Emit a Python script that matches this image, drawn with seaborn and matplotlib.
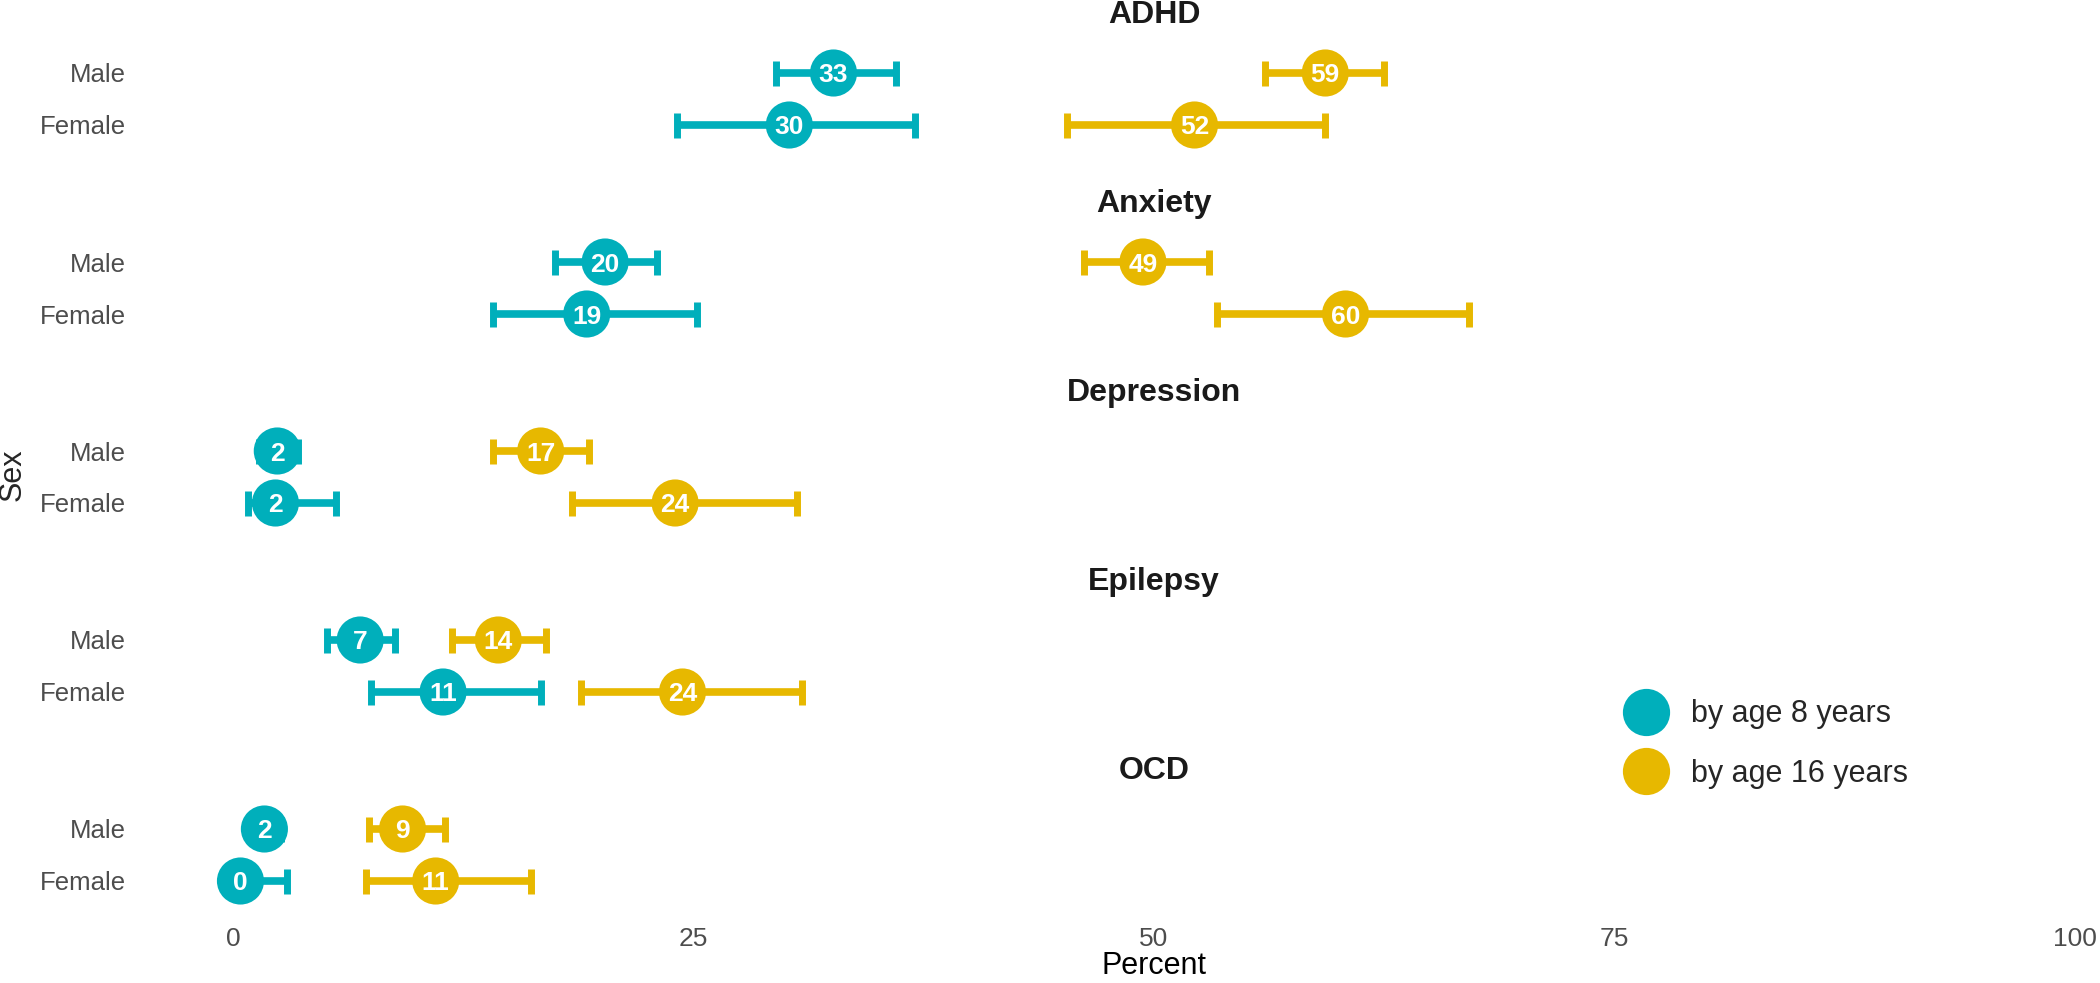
import numpy as np
import pandas as pd
import matplotlib.pyplot as plt
from matplotlib.lines import Line2D
import seaborn as sns

sns.set_theme(style="white")
plt.rcParams['font.family'] = ['Liberation Sans', 'DejaVu Sans']

disorders = ['ADHD', 'Anxiety', 'Depression', 'Epilepsy', 'OCD']
sexes = ['Male', 'Female']
groups = ['by age 8 years', 'by age 16 years']
colors = {'by age 8 years': '#00AFBB', 'by age 16 years': '#E7B800'}

# order: ADHD M, ADHD F, Anxiety M, Anxiety F, Depression M, Depression F, Epilepsy M, Epilepsy F, OCD M, OCD F
by8_est = [32.6, 30.2, 20.2, 19.2, 2.4, 2.3, 6.9, 11.4, 1.7, 0.4]
by8_lo = [29.5, 24.1, 17.5, 14.1, 1.4, 0.8, 5.1, 7.5, 1.0, 0.0]
by8_hi = [36.0, 37.0, 23.0, 25.2, 3.5, 5.6, 8.8, 16.7, 2.6, 2.9]

by16_est = [59.3, 52.2, 49.4, 60.4, 16.7, 24.0, 14.4, 24.4, 9.2, 11.0]
by16_lo = [56.0, 45.3, 46.2, 53.4, 14.1, 18.4, 11.9, 18.9, 7.4, 7.2]
by16_hi = [62.5, 59.3, 53.0, 67.1, 19.3, 30.6, 17.0, 30.9, 11.5, 16.2]

rows = []
for g, est, lo, hi in [(groups[0], by8_est, by8_lo, by8_hi), (groups[1], by16_est, by16_lo, by16_hi)]:
    for i, d in enumerate(disorders):
        for j, s in enumerate(sexes):
            k = i * 2 + j
            rows.append({'Disorder': d, 'Sex': s, 'Group': g,
                         'Percent': est[k], 'lo': lo[k], 'hi': hi[k]})
df = pd.DataFrame(rows)
df['ypos'] = df['Sex'].map({'Male': 1, 'Female': 0})

W, H = 2100, 983
fig = plt.figure(figsize=(W / 100, H / 100), dpi=100)

left_px, right_px = 141, 2167
row_h = 52
male_y = [73, 262, 451, 640, 829]

for i, d in enumerate(disorders):
    top = male_y[i] - 0.6 * row_h
    ax = fig.add_axes([left_px / W, 1 - (top + 2.2 * row_h) / H,
                       (right_px - left_px) / W, 2.2 * row_h / H])
    sub = df[df['Disorder'] == d]
    for g in groups:
        s = sub[sub['Group'] == g]
        ax.errorbar(s['Percent'], s['ypos'],
                    xerr=[s['Percent'] - s['lo'], s['hi'] - s['Percent']],
                    fmt='none', ecolor=colors[g], elinewidth=5.5,
                    capsize=9, capthick=5, zorder=2)
    sns.scatterplot(data=sub, x='Percent', y='ypos', hue='Group', palette=colors,
                    s=1150, linewidth=0, ax=ax, legend=False, zorder=3)
    for _, r in sub.iterrows():
        ax.text(r['Percent'], r['ypos'], f"{r['Percent']:.0f}", color='white',
                fontsize=19, fontweight='bold', ha='center', va='center_baseline', zorder=4)
    ax.set_xlim(-5, 105)
    ax.set_ylim(-0.6, 1.6)
    ax.set_yticks([1, 0])
    ax.set_yticklabels(sexes, fontsize=18.5, color='#4D4D4D')
    ax.tick_params(axis='y', length=0, pad=11)
    ax.set_ylabel('')
    ax.text(0.5, 1 + 27 / (2.2 * row_h), d, transform=ax.transAxes, ha='center',
            va='center', fontsize=23, fontweight='bold', color='#1A1A1A')
    for sp in ax.spines.values():
        sp.set_visible(False)
    ax.grid(False)
    if i < len(disorders) - 1:
        ax.set_xticks([])
        ax.set_xlabel('')
    else:
        ax.set_xticks([0, 25, 50, 75, 100])
        ax.tick_params(axis='x', length=0, pad=11, labelsize=19, labelcolor='#4D4D4D')
        ax.set_xlabel('Percent', fontsize=22, labelpad=0, color='black')

fig.text(13 / W, 1 - 475 / H, 'Sex', rotation=90, ha='center', va='center', fontsize=22)

handles = [Line2D([0], [0], marker='o', linestyle='none', markersize=34,
                  markerfacecolor=colors[g], markeredgewidth=0) for g in groups]
fig.legend(handles, groups, loc='center left', bbox_to_anchor=(1596 / W, 1 - 744 / H),
           frameon=False, fontsize=22, handletextpad=0.7, labelspacing=0.95,
           handlelength=1.5)

fig.savefig('out.png', dpi=100)
